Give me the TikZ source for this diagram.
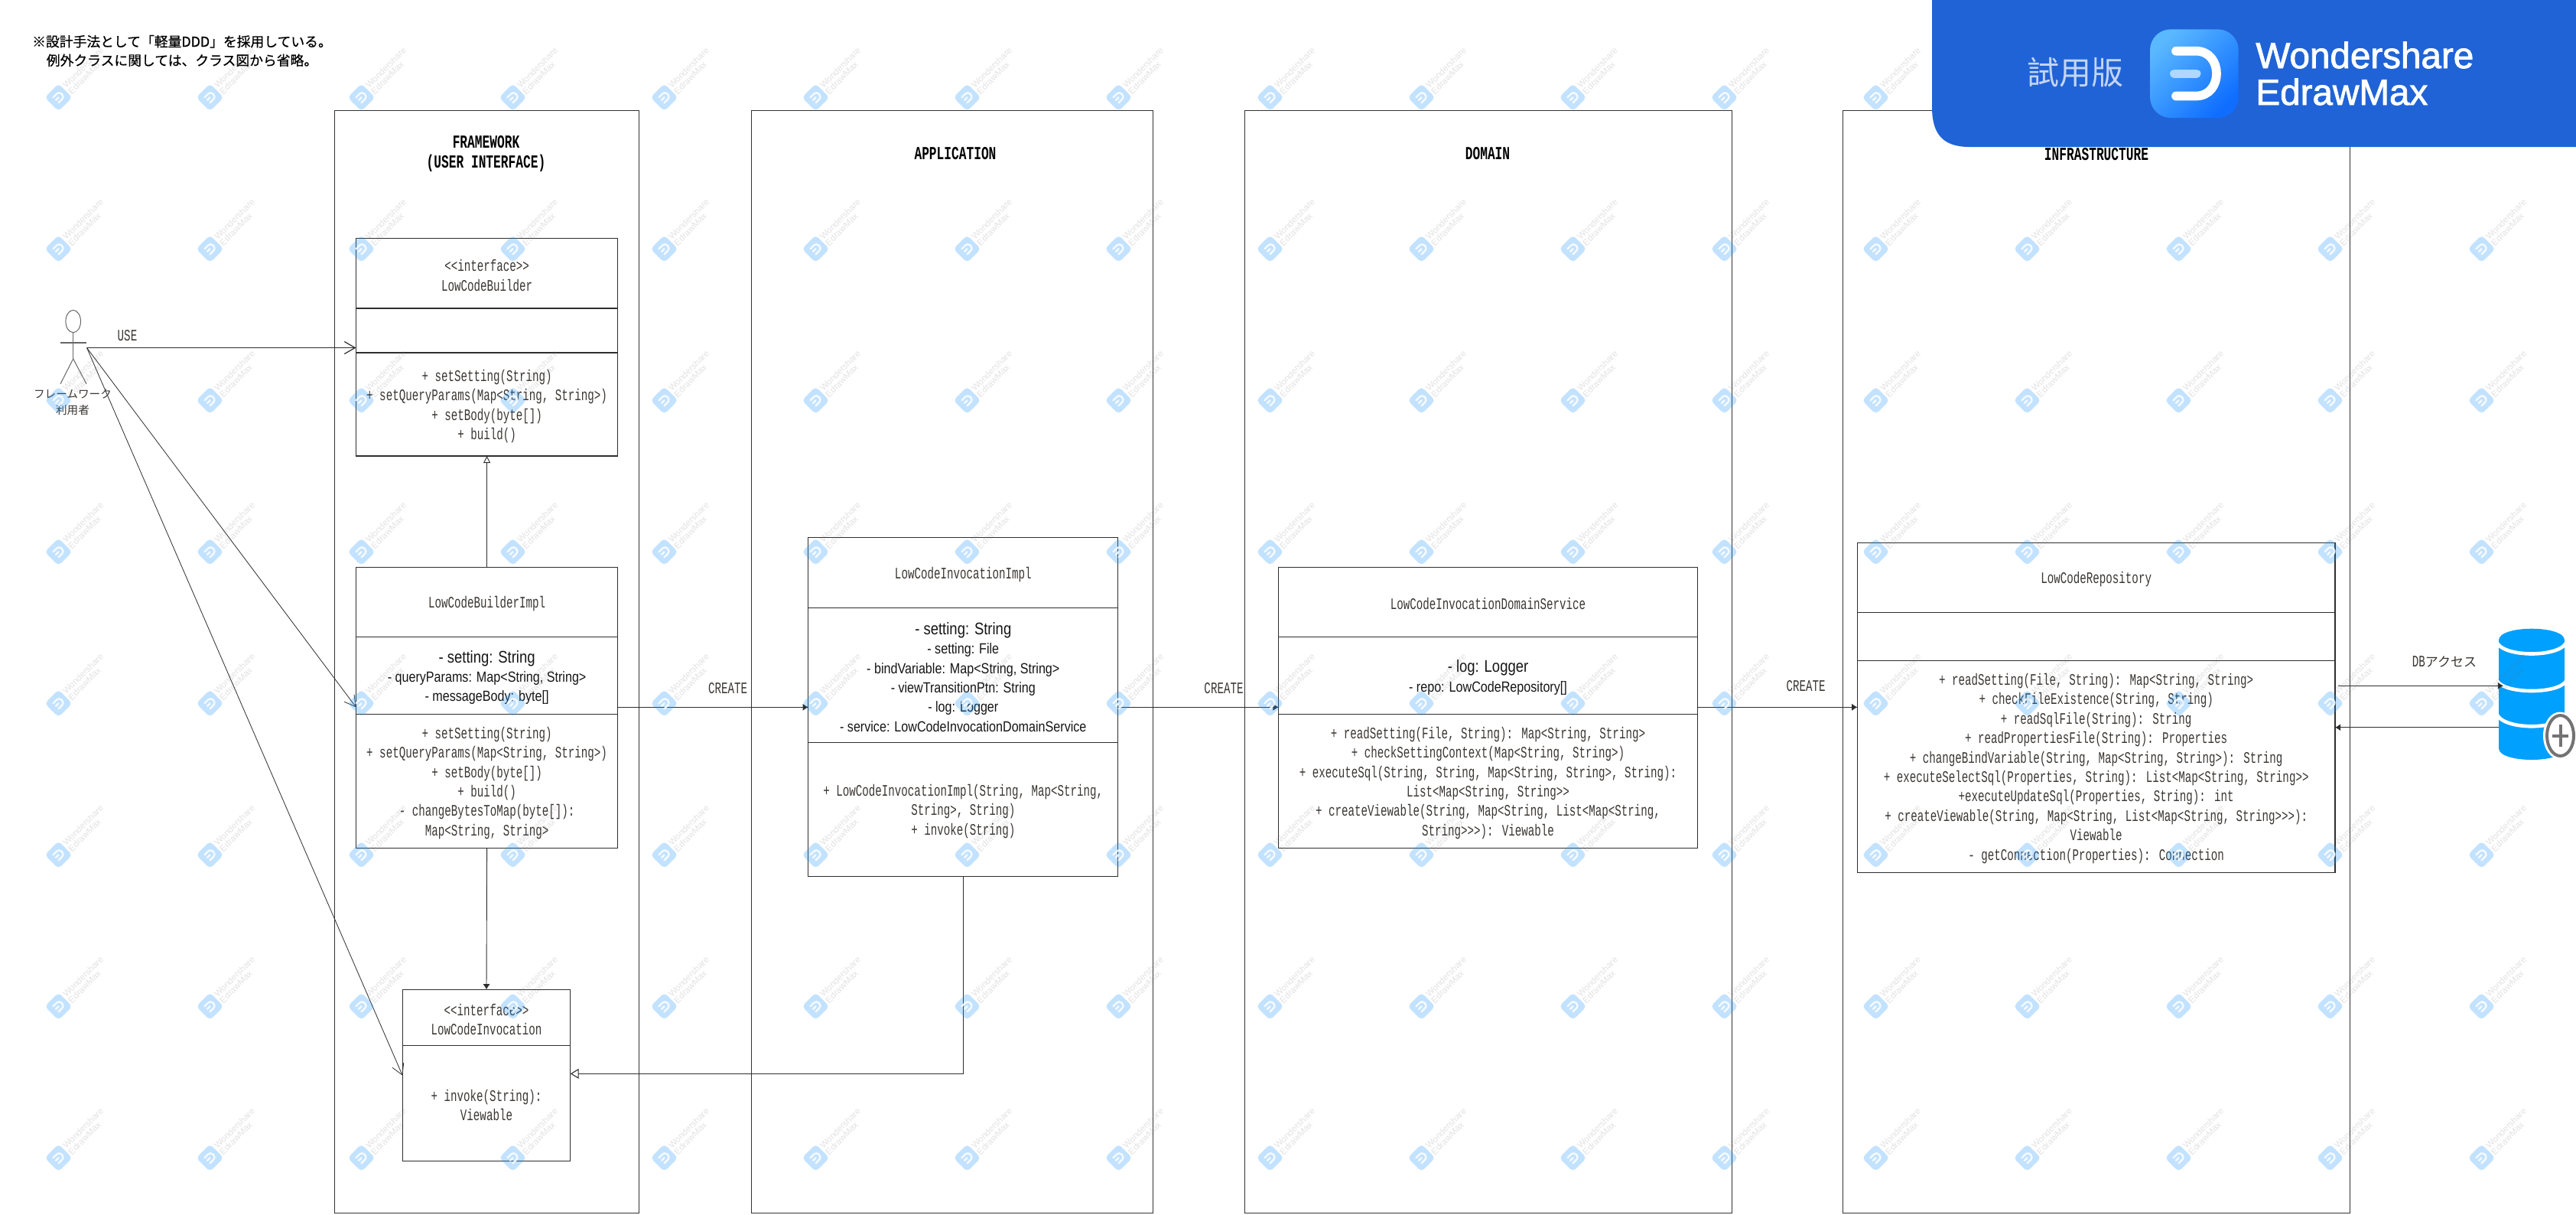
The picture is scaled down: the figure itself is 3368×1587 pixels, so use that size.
\documentclass[tikz,border=0pt]{standalone}
\usepackage{fontspec}
\usetikzlibrary{arrows.meta,shapes.geometric}
\setmainfont{Liberation Serif}
\newfontfamily\monof[FakeStretch=0.675]{Liberation Mono}
\newfontfamily\attrf[FakeStretch=0.84]{Liberation Sans}
\newfontfamily\wmf{Liberation Sans}
\newfontfamily\brandf[FakeBold=1.8]{Liberation Sans}
\newfontfamily\jpf{Noto Sans CJK JP}
\newfontfamily\jpbf[FakeBold=0.6]{Noto Sans CJK JP}
\newfontfamily\tcf{Noto Sans CJK TC}
\definecolor{lanecol}{HTML}{333333}
\definecolor{boxcol}{HTML}{2E2E2E}
\definecolor{txtcol}{HTML}{3A3633}
\definecolor{attrcol}{HTML}{151515}
\definecolor{dbblue}{HTML}{00A0FF}
\definecolor{bannerblue}{HTML}{2063D6}
\definecolor{wmblue}{HTML}{1E96FF}
\definecolor{wmgrey}{HTML}{707070}
\definecolor{HTMLa}{HTML}{5AB8FF}
\definecolor{HTMLb}{HTML}{0F6EFF}
\definecolor{bannermid}{HTML}{AFD7FF}
\definecolor{bannertxt}{HTML}{C3D5F5}
\newcommand{\bodyfont}{\monof\fontsize{10.5}{12.7}\selectfont\color{txtcol}}
\newcommand{\at}[1]{{\attrf\fontsize{9.6}{12.8}\selectfont\color{attrcol}#1}}
\newcommand{\atb}[1]{{\attrf\fontsize{11}{12.8}\selectfont\color{attrcol}#1}}
\newcommand{\cmp}[6]{\node[comp,minimum width={(#4-#2)*0.5pt},minimum height={(#5-#3)*0.5pt}] (#1) at ({(#2+#4)/2},{(#3+#5)/2}) {};
  \node[comptext] (#1t) at ([yshift=-1.3pt]#1.center) {#6};}
\tikzset{
  comp/.style={draw=boxcol,line width=0.6pt,inner sep=0pt,outer sep=0pt},
  comptext/.style={inner sep=0pt,align=center,font=\bodyfont},
  lane/.style={draw=lanecol,line width=0.45pt},
  titletext/.style={font=\monof\bfseries\fontsize{12}{12.8}\selectfont,align=center,text=black,inner sep=0pt},
  plainlabel/.style={font=\bodyfont,inner sep=0pt},
  jptext/.style={font=\jpf\fontsize{7.3}{10.3}\selectfont,text=txtcol,align=center,inner sep=0pt},
  conn/.style={draw=boxcol,line width=0.55pt},
  thin conn/.style={draw=boxcol,line width=0.4pt},
  solidhead/.style={-{Latex[length=3.6pt,width=4.6pt]}},
  openhead/.style={-{Straight Barb[length=7pt,width=8pt]}},
  hollowhead/.style={-{Triangle[open,length=5.5pt,width=6.5pt,fill=white]}},
  hollowsmall/.style={-{Triangle[open,length=4.5pt,width=4.5pt,fill=white]}},
  actorline/.style={draw=black!60,line width=0.5pt},
}
\begin{document}
\begin{tikzpicture}[x=0.5pt,y=-0.5pt]
\useasboundingbox (0,0) rectangle (3368,1587);
\fill[white] (0,0) rectangle (3368,1587);

% lanes
\node[lane,inner sep=0pt,minimum width=199pt,minimum height=720.5pt] (laneF) at (636,864.5) {};
\node[lane,inner sep=0pt,minimum width=262.8pt,minimum height=720.5pt] (laneA) at (1245,864.5) {};
\node[lane,inner sep=0pt,minimum width=318.75pt,minimum height=720.5pt] (laneD) at (1946,864.5) {};
\node[lane,inner sep=0pt,minimum width=331.5pt,minimum height=720.5pt] (laneI) at (2740.5,864.5) {};

% lane titles
\node[titletext] (ttlF) at (635.5,201) {FRAMEWORK\\(USER INTERFACE)};
\node[titletext] (ttlA) at (1249,201) {APPLICATION};
\node[titletext] (ttlD) at (1945,201) {DOMAIN};
\node[titletext] (ttlI) at (2741,201.5) {INFRASTRUCTURE};

% note
\node[font=\jpbf\fontsize{8.9}{12.3}\selectfont,align=center,text=black,inner sep=0pt] (note) at (238,66.5) {※設計手法として「軽量DDD」を採用している。\\例外クラスに関しては、クラス図から省略。};

% LowCodeBuilder
\cmp{bldA}{465.5}{311.5}{807.7}{403}{<{}<interface>{}>\\LowCodeBuilder}
\cmp{bldB}{465.5}{403}{807.7}{461}{}
\cmp{bldC}{465.5}{461}{807.7}{596}{+ setSetting(String)\\+ setQueryParams(Map<String, String>)\\+ setBody(byte[])\\+ build()}

% LowCodeBuilderImpl
\cmp{impA}{465.5}{741.3}{807.7}{832.3}{LowCodeBuilderImpl}
\cmp{impB}{465.5}{832.3}{807.7}{933.3}{\atb{- setting: String}\\\at{- queryParams: Map<String, String>}\\\at{- messageBody: byte[]}}
\cmp{impC}{465.5}{933.3}{807.7}{1108.3}{+ setSetting(String)\\+ setQueryParams(Map<String, String>)\\+ setBody(byte[])\\+ build()\\- changeBytesToMap(byte[]):\\Map<String, String>}

% LowCodeInvocation
\cmp{invA}{526.3}{1293.3}{745.7}{1366.3}{<{}<interface>{}>\\LowCodeInvocation}
\cmp{invB}{526.3}{1366.3}{745.7}{1517.3}{+ invoke(String):\\Viewable}

% LowCodeInvocationImpl
\cmp{iviA}{1056.8}{702.3}{1461.8}{794.3}{LowCodeInvocationImpl}
\cmp{iviB}{1056.8}{794.3}{1461.8}{970.3}{\atb{- setting: String}\\\at{- setting: File}\\\at{- bindVariable: Map<String, String>}\\\at{- viewTransitionPtn: String}\\\at{- log: Logger}\\\at{- service: LowCodeInvocationDomainService}}
\cmp{iviC}{1056.8}{970.3}{1461.8}{1145.3}{+ LowCodeInvocationImpl(String, Map<String,\\String>, String)\\+ invoke(String)}

% LowCodeInvocationDomainService
\cmp{domA}{1671.6}{741.3}{2219.4}{832.3}{LowCodeInvocationDomainService}
\cmp{domB}{1671.6}{832.3}{2219.4}{933.3}{\atb{- log: Logger}\\\at{- repo: LowCodeRepository[]}}
\cmp{domC}{1671.6}{933.3}{2219.4}{1108.3}{+ readSetting(File, String): Map<String, String>\\+ checkSettingContext(Map<String, String>)\\+ executeSql(String, String, Map<String, String>, String):\\List<Map<String, String>{}>\\+ createViewable(String, Map<String, List<Map<String,\\String>{}>{}>): Viewable}

% LowCodeRepository
\cmp{repA}{2428.4}{709.3}{3053}{800.3}{LowCodeRepository}
\cmp{repB}{2428.4}{800.3}{3053}{863.3}{}
\cmp{repC}{2428.4}{863.3}{3053}{1140.3}{+ readSetting(File, String): Map<String, String>\\+ checkFileExistence(String, String)\\+ readSqlFile(String): String\\+ readPropertiesFile(String): Properties\\+ changeBindVariable(String, Map<String, String>): String\\+ executeSelectSql(Properties, String): List<Map<String, String>{}>\\+executeUpdateSql(Properties, String): int\\+ createViewable(String, Map<String, List<Map<String, String>{}>{}>):\\Viewable\\- getConnection(Properties): Connection}

% actor
\node[draw=black!60,line width=0.5pt,ellipse,inner sep=0pt,minimum width=9.8pt,minimum height=14.6pt] (head) at (95.7,420) {};
\draw[actorline] (head.south) -- (95.7,469) coordinate (hip);
\draw[actorline,line width=0.8pt] (79,447.7) -- (113.3,447.7);
\draw[actorline] (hip) -- (79,501.7);
\draw[actorline] (hip) -- (113,501.7);
\node[jptext] (actorlbl) at (95,525.5) {フレームワーク\\利用者};
\coordinate (hand) at (113.5,454.5);

% bus coordinates
\coordinate (busY) at (0,924.3);
\coordinate (useIn) at (0,1405.7);
\coordinate (implIn) at (0,1403.3);
\coordinate (ivDrop) at (1259.6,1403.3);
\coordinate (ivTop) at (1259.6,1145.3);
\coordinate (dbGoStart) at (3057.4,896.3);
\coordinate (dbGoEnd) at (3273,896.3);
\coordinate (dbBackStart) at (3267,950.7);

% DB
\fill[dbblue] (3267,836.7) -- (3267,978) .. controls (3267,998) and (3353,998) .. (3353,978) -- (3353,836.7) .. controls (3353,816.7) and (3267,816.7) .. (3267,836.7) -- cycle;
\draw[white,line width=2.3pt] (3264,838) .. controls (3270,860) and (3350,860) .. (3356,838);
\draw[white,line width=2.3pt] (3264,888) .. controls (3270,908) and (3350,908) .. (3356,888);
\draw[white,line width=2.3pt] (3264,932) .. controls (3270,955) and (3350,955) .. (3356,932);
\fill[white] (3347,961.5) ellipse [x radius=22,y radius=31];
\draw[draw=black!55,fill=white,line width=2pt] (3347.5,961.5) ellipse [x radius=17.5,y radius=26.5];
\draw[draw=black!55,line width=2pt] (3337,961.5) -- (3358,961.5) (3347.5,947) -- (3347.5,976);

% connectors
\draw[thin conn,openhead,line width=0.6pt] (hand) -- (bldB.west |- hand);
\draw[thin conn,openhead] (hand) -- (impB.west |- busY);
\draw[thin conn,openhead] (hand) -- (invB.west |- useIn);
\draw[conn,hollowsmall,line width=0.45pt] (impA.north) -- (bldC.south);
\draw[conn,solidhead,line width=0.45pt] (impC.south) -- (invA.north);
\draw[conn,solidhead] (impB.east |- busY) -- (iviB.west |- busY);
\draw[conn,solidhead] (iviB.east |- busY) -- (domB.west |- busY);
\draw[conn,solidhead] (domB.east |- busY) -- (repC.west |- busY);
\draw[thin conn] (ivTop) -- (ivDrop);
\draw[conn,hollowhead] (ivDrop) -- (invB.east |- implIn);
\draw[conn,solidhead] (dbGoStart) -- (dbGoEnd);
\draw[conn,solidhead] (dbBackStart) -- (repC.east |- dbBackStart);

% connector labels
\node[plainlabel] (lblUse) at (166.5,439) {USE};
\node[plainlabel] (lblC1) at (951.6,899.3) {CREATE};
\node[plainlabel] (lblC2) at (1600,899.3) {CREATE};
\node[plainlabel] (lblC3) at (2361,896.7) {CREATE};
\node[font=\monof\fontsize{10.5}{12.7}\selectfont,text=txtcol,inner sep=0pt] (lblDb) at (3196,865) {DB{\jpf\fontsize{8.5}{12}\selectfont アクセス}};

% watermarks
\foreach \i in {0,...,16}{
  \foreach \j in {0,...,7}{
    \begin{scope}[shift={({76.5+198*\i},{127.3+198*\j})}]
      \fill[wmblue,fill opacity=.27,rounded corners=2.5pt] (0,-18) -- (18,0) -- (0,18) -- (-18,0) -- cycle;
      \draw[white,draw opacity=.85,line width=1.2pt,line cap=round,rotate=45] (-5,-5) -- (1,-5) .. controls (8,-5) and (8,5) .. (1,5) -- (-5,5) (-5,0) -- (0,0);
      \node[font=\wmf\fontsize{5.8}{6}\selectfont,text=wmgrey,text opacity=.2,rotate=45,inner sep=0pt] (wmA-\i-\j) at (32,-39) {Wondershare};
      \node[font=\wmf\fontsize{5.8}{6}\selectfont,text=wmgrey,text opacity=.2,rotate=45,inner sep=0pt] (wmB-\i-\j) at (34,-25.6) {EdrawMax};
    \end{scope}
  }
}

% banner
\fill[bannerblue] (2526,0) -- (2526,140) .. controls (2526,175) and (2540,192) .. (2575,192) -- (3368,192) -- (3368,0) -- cycle;
\shade[rounded corners=13.5pt,top color=HTMLa,bottom color=HTMLb,shading angle=45] (2811,38.3) rectangle (2926.7,154);
\draw[white,line width=5.85pt,line cap=round] (2845,66.7) -- (2871,66.7) .. controls (2907,66.7) and (2907,125.5) .. (2871,125.5) -- (2845,125.5);
\draw[bannermid,line width=5.5pt,line cap=round] (2842.5,96.2) -- (2872,96.2);
\node[font=\tcf\fontsize{21}{21}\selectfont,text=bannertxt,inner sep=0pt] (trial) at (2713,95) {試用版};
\node[font=\brandf\fontsize{23.8}{24}\selectfont,text=white,anchor=west,inner sep=0pt] (brandA) at (2949,72) {Wondershare};
\node[font=\brandf\fontsize{23.8}{24}\selectfont,text=white,anchor=west,inner sep=0pt] (brandB) at (2949,120) {EdrawMax};
\end{tikzpicture}
\end{document}
